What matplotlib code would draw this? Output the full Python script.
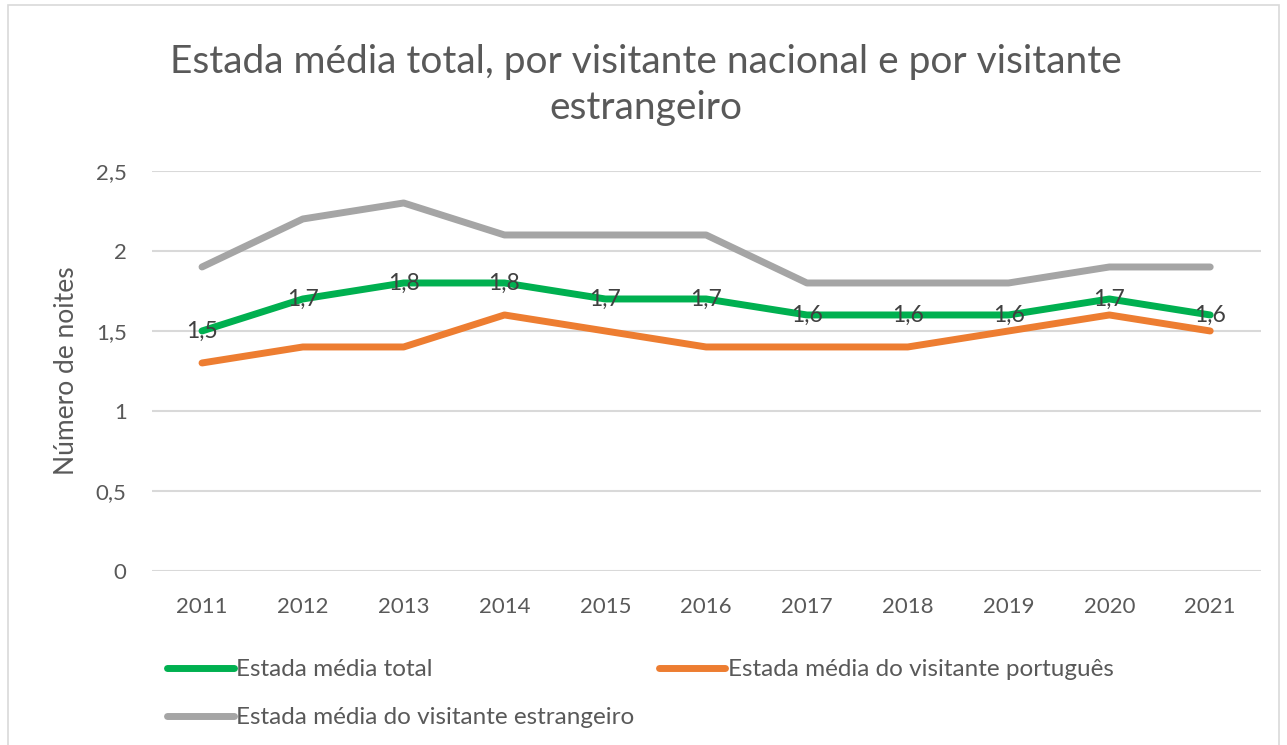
import matplotlib.pyplot as plt
from matplotlib.patches import Rectangle

plt.rcParams['font.family'] = ['Lato', 'DejaVu Sans']

anos = ['2011', '2012', '2013', '2014', '2015', '2016', '2017', '2018', '2019', '2020', '2021']
total = [1.5, 1.7, 1.8, 1.8, 1.7, 1.7, 1.6, 1.6, 1.6, 1.7, 1.6]
portugues = [1.3, 1.4, 1.4, 1.6, 1.5, 1.4, 1.4, 1.4, 1.5, 1.6, 1.5]
estrangeiro = [1.9, 2.2, 2.3, 2.1, 2.1, 2.1, 1.8, 1.8, 1.8, 1.9, 1.9]
yticks = [0, 0.5, 1, 1.5, 2, 2.5]

fig = plt.figure(figsize=(12.87, 7.45), dpi=100)
ax = fig.add_axes([0.1178, 0.2336, 0.8617, 0.5369])

x = range(len(anos))
l1, = ax.plot(x, total, color='#00B050', lw=5, solid_capstyle='round', label='Estada média total', zorder=3)
l2, = ax.plot(x, portugues, color='#ED7D31', lw=5, solid_capstyle='round', label='Estada média do visitante português', zorder=2)
l3, = ax.plot(x, estrangeiro, color='#A5A5A5', lw=5, solid_capstyle='round', label='Estada média do visitante estrangeiro', zorder=2)

for i, v in zip(x, total):
    ax.text(i, v, str(v).replace('.', ','), ha='center', va='center', fontsize=16.5, color='#404040', zorder=4)

ax.set_xlim(-0.5, len(anos) - 0.5)
ax.set_ylim(0, 2.5)
ax.set_xticks(list(x))
ax.set_xticklabels(anos)
ax.set_yticks(yticks)
ax.set_yticklabels([('%g' % t).replace('.', ',') for t in yticks])
ax.tick_params(length=0, labelsize=16, labelcolor='#595959')
ax.tick_params(axis='x', pad=19)
ax.tick_params(axis='y', pad=18)
ax.grid(axis='y', color='#D9D9D9', lw=1.5)
ax.set_axisbelow(True)
for s in ax.spines.values():
    s.set_visible(False)
ax.set_ylabel('Número de noites', fontsize=19, color='#595959', labelpad=12)

fig.text(0.502, 0.886, 'Estada média total, por visitante nacional e por visitante\nestrangeiro',
         ha='center', va='center', fontsize=28, color='#595959', linespacing=1.35)

fig.legend(handles=[l1, l3, l2], loc='upper left', bbox_to_anchor=(0.122, 0.128), ncol=2, frameon=False,
           fontsize=17.5, labelcolor='#595959', handlelength=2.75, handletextpad=0.1,
           columnspacing=1.0, labelspacing=1.1, borderaxespad=0)

fig.patches.append(Rectangle((0.006, -0.01), 0.988, 1.003, transform=fig.transFigure,
                             fill=False, edgecolor='#D9D9D9', lw=1.2))

fig.savefig('out.png', dpi=100)
